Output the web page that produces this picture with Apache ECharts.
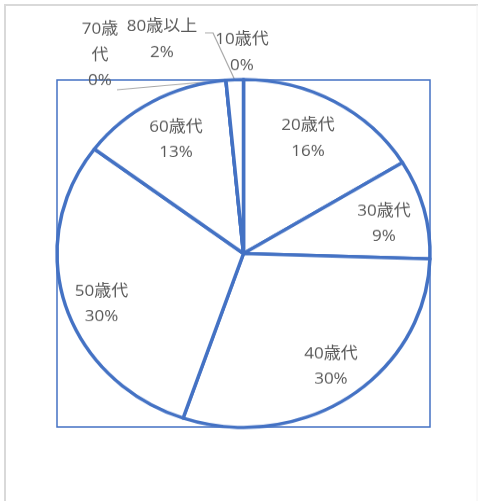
<!DOCTYPE html>
<html>
<head>
<meta charset="utf-8">
<script src="https://cdn.jsdelivr.net/npm/echarts@6/dist/echarts.min.js"></script>
<style>
  html, body { margin: 0; padding: 0; background: #fff; }
  #bg, #fg { position: absolute; left: 0; top: 0; width: 478px; height: 501px; }
  #fg { transform: scaleY(0.933); transform-origin: 0 253.5px; }
</style>
</head>
<body>
<div id="bg"></div>
<div id="fg"></div>
<script>
// ---- data ----
const categories = ['10歳代', '20歳代', '30歳代', '40歳代', '50歳代', '60歳代', '70歳代', '80歳以上'];
const counts = [0, 65, 37, 119, 120, 53, 0, 6];
const outsideNames = ['10歳代', '70歳代', '80歳以上'];

const total = counts.reduce((a, b) => a + b, 0);
const pct = v => Math.round(v * 100 / total) + '%';

const BLUE = '#4472C4';
const TEXT = '#595959';
const FONT = '"Open Sans", "Noto Sans CJK JP", sans-serif';

// background: page frame + plot-area frame
const bg = echarts.init(document.getElementById('bg'), null, { renderer: 'canvas' });
bg.setOption({
  animation: false,
  graphic: [
    { type: 'line', shape: { x1: 4, y1: 5, x2: 478, y2: 5 }, style: { stroke: '#d9d9d9', lineWidth: 2 } },
    { type: 'line', shape: { x1: 5, y1: 5, x2: 5, y2: 501 }, style: { stroke: '#d9d9d9', lineWidth: 2 } },
    { type: 'line', shape: { x1: 477, y1: 5, x2: 477, y2: 501 }, style: { stroke: '#f2f2f2', lineWidth: 1 } },
    { type: 'rect', shape: { x: 57, y: 80, width: 373, height: 347 }, style: { fill: 'none', stroke: BLUE, lineWidth: 1.5 } }
  ]
});

// foreground: pie (vertically squeezed to match the reference's ellipse)
const fg = echarts.init(document.getElementById('fg'), null, { renderer: 'canvas' });

const R = 186.5;
const CX = 243.5, CY = 253.5;

// label placement for the small outside slices (chart coords, before the squeeze)
const outsidePlace = {
  '10歳代': { x: 242, y: 38, line: null },
  '70歳代': { x: 100, y: 41, line: [[170, 73], [117, 78]] },
  '80歳以上': { x: 162, y: 24, line: [[213, 17], [205, 17]] }
};
// small nudges of the inside labels (px)
const innerNudge = {
  '20歳代': [-8, 6], '30歳代': [-3, 6], '40歳代': [3, -1], '50歳代': [0, 10], '60歳代': [5, 7]
};

const labelText = { color: TEXT, fontSize: 17, lineHeight: 27.5, fontFamily: FONT };

const mainData = categories.map((name, i) => {
  const out = outsideNames.includes(name);
  return {
    name: name,
    value: counts[i],
    label: out ? Object.assign({ show: true, position: 'outside', width: name === '70歳代' ? 42 : 95, overflow: 'break', align: 'center' }, labelText) : { show: false },
    labelLine: { show: out && outsidePlace[name].line !== null, lineStyle: { color: '#a6a6a6', width: 1.2 } }
  };
});

const innerData = categories.map((name, i) => ({
  name: name,
  value: counts[i],
  label: { show: !outsideNames.includes(name) }
}));

fg.setOption({
  animation: false,
  series: [
    {
      type: 'pie',
      center: [CX, CY],
      radius: R,
      startAngle: 90,
      clockwise: true,
      avoidLabelOverlap: false,
      emphasis: { disabled: true },
      itemStyle: { color: '#ffffff', borderColor: BLUE, borderWidth: 3.5 },
      label: {
        formatter: p => p.name + '\n' + pct(p.value)
      },
      labelLayout: function (params) {
        const name = categories[params.dataIndex];
        const place = outsidePlace[name];
        if (!place) return {};
        const res = { x: place.x, y: place.y, align: 'center', verticalAlign: 'middle' };
        if (place.line) {
          const start = (params.labelLinePoints && params.labelLinePoints[0]) || [CX, CY - R];
          res.labelLinePoints = [start, place.line[0], place.line[1]];
        }
        return res;
      },
      data: mainData
    },
    {
      type: 'pie',
      center: [CX, CY],
      radius: [R * 0.56, R],
      startAngle: 90,
      clockwise: true,
      silent: true,
      emphasis: { disabled: true },
      itemStyle: { color: 'rgba(0,0,0,0)', borderWidth: 0 },
      label: Object.assign({ position: 'inside', formatter: p => p.name + '\n' + pct(p.value) }, labelText),
      labelLine: { show: false },
      labelLayout: function (params) {
        const n = innerNudge[categories[params.dataIndex]];
        if (!n) return {};
        return { dx: n[0], dy: n[1] / 0.933 };
      },
      data: innerData
    }
  ]
});
</script>
</body>
</html>
